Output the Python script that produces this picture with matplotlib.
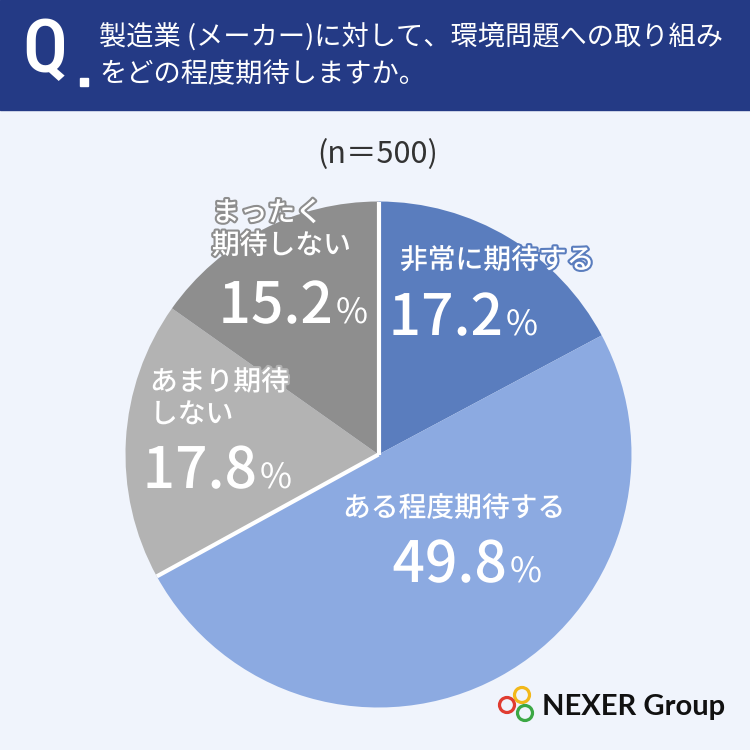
import matplotlib
matplotlib.use("Agg")
import matplotlib.pyplot as plt
import matplotlib.patheffects as pe
from matplotlib.patches import Rectangle, Circle
import numpy as np

plt.rcParams['font.family'] = ['Noto Sans CJK JP', 'DejaVu Sans']

# データ
labels = ['非常に期待する', 'ある程度期待する', 'あまり期待\nしない', 'まったく\n期待しない']
values = [17.2, 49.8, 17.8, 15.2]
colors = ['#5A7DBE', '#8CAAE1', '#B3B3B3', '#8E8E8E']
title_q = '製造業 (メーカー)に対して、環境問題への取り組み\nをどの程度期待しますか。'
n_text = '(n＝500)'

W = 750
def Y(y):  # 画像のy座標(上から) -> データ座標
    return W - y

fig = plt.figure(figsize=(7.5, 7.5), dpi=100)
fig.patch.set_facecolor('#F0F4FC')
ax = fig.add_axes([0, 0, 1, 1])
ax.set_facecolor('#F0F4FC')

cx, cy, r = 378.5, Y(454.5), 253
wedges, _ = ax.pie(values, colors=colors, startangle=90, counterclock=False,
                   center=(cx, cy), radius=r, wedgeprops=dict(linewidth=0))
ax.set_xlim(0, W)
ax.set_ylim(0, W)
ax.set_aspect('equal')
ax.axis('off')

# 青とグレーの境界だけ白線
cum = np.cumsum(values)
for c in [0, cum[1]]:
    ang = np.deg2rad(90 - 360 * c / 100)
    ax.plot([cx, cx + r * np.cos(ang)], [cy, cy + r * np.sin(ang)],
            color='white', lw=3, solid_capstyle='butt', zorder=3)

# ヘッダー
ax.add_patch(Rectangle((0, Y(110)), W, 110, color='#243A85', zorder=4))
ax.text(22, Y(52), 'Q', color='white', fontsize=54, fontweight='medium',
        family=['Roboto Condensed', 'Roboto', 'DejaVu Sans'], va='center', ha='left',
        zorder=5, transform=ax.transData)
ax.add_patch(Rectangle((80, Y(86)), 8, 8, color='white', zorder=5))
ax.text(99, Y(56), title_q, color='white', fontsize=19.6, va='center', ha='left',
        linespacing=1.45, zorder=5)

ax.text(378, Y(155), n_text, color='#333333', fontsize=22, ha='center', va='center')

# ラベル
lab_pos = [(400, 260), (343, 508), (150, 398), (212, 229)]
for i, (lx, ly) in enumerate(lab_pos):
    ax.text(lx, Y(ly), labels[i], color='white', fontsize=20, fontweight='medium',
            ha='left', va='center', linespacing=1.15, zorder=6,
            path_effects=[pe.withStroke(linewidth=3, foreground=colors[i])])

num_pos = [(503, 335), (507, 582), (257, 488), (333, 323)]
for i, (nx, ny) in enumerate(num_pos):
    ax.text(nx, Y(ny), f'{values[i]:.1f}', color='white', fontsize=41, fontweight='medium',
            ha='right', va='baseline', zorder=6,
            path_effects=[pe.withStroke(linewidth=3, foreground=colors[i])])
    ax.text(nx + 3, Y(ny), '%', color='white', fontsize=25, ha='left',
            va='baseline', zorder=6,
            path_effects=[pe.withStroke(linewidth=3, foreground=colors[i])])

# ロゴ
for (px, py, pc) in [(522, 695, '#F2B81B'), (507, 705, '#E03C31'), (525, 713, '#3CA845')]:
    ax.add_patch(Circle((px, Y(py)), 7.5, fill=False, ec=pc, lw=2.3, zorder=7))
ax.text(542, Y(707), 'NEXER Group', color='#111111', fontsize=21, fontweight='bold',
        family=['Lato', 'DejaVu Sans'], ha='left', va='center', zorder=7)

fig.savefig('out.png', dpi=100, facecolor=fig.get_facecolor())
